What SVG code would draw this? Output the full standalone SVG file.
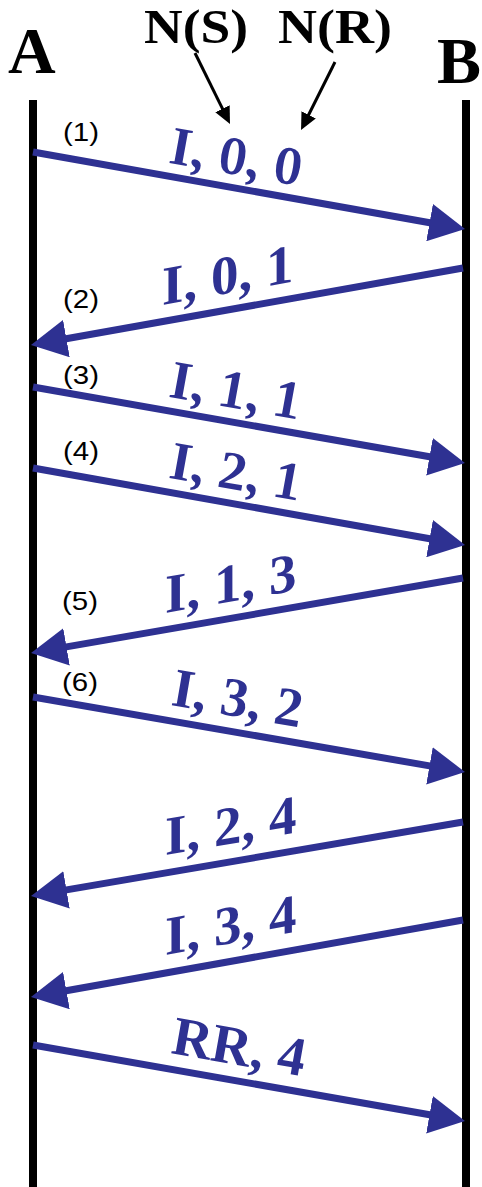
<svg xmlns="http://www.w3.org/2000/svg" width="482" height="1187" viewBox="0 0 482 1187">
<style>
.life{fill:#000}
.ttl{font-family:"Liberation Serif",serif;font-weight:bold;fill:#000}
.num{font-family:"Liberation Sans",Arial,sans-serif;font-size:26px;fill:#000}
.lbl{font-family:"Liberation Serif",serif;font-weight:bold;font-size:55px;fill:#2E3192}
.it{font-style:italic}
.msg{stroke:#2E3192;stroke-width:7;fill:none;marker-end:url(#ahB)}
.ptr{stroke:#000;stroke-width:3;fill:none;marker-end:url(#ahK)}
</style>
<defs>
<marker id="ahB" viewBox="0 0 36 38" refX="6" refY="19" markerWidth="36" markerHeight="38" markerUnits="userSpaceOnUse" orient="auto">
<path d="M0,0 L36,19 L0,38 z" fill="#2E3192"/>
</marker>
<marker id="ahK" viewBox="0 0 17 16" refX="3" refY="8" markerWidth="17" markerHeight="16" markerUnits="userSpaceOnUse" orient="auto">
<path d="M0,0 L17,8 L0,16 z" fill="#000"/>
</marker>
</defs>
<g id="nodeA">
<text class="ttl" x="8" y="73" font-size="66">A</text>
<rect class="life" x="29" y="100" width="8" height="1087"/>
</g>
<g id="nodeB">
<text class="ttl" x="437" y="83" font-size="66">B</text>
<rect class="life" x="462" y="100" width="8" height="1087"/>
</g>
<g id="nodeNS">
<text class="ttl" x="144" y="43" font-size="48" textLength="104" lengthAdjust="spacingAndGlyphs">N(S)</text>
</g>
<g id="nodeNR">
<text class="ttl" x="278" y="43" font-size="48" textLength="114" lengthAdjust="spacingAndGlyphs">N(R)</text>
</g>
<g id="connectors">
<line class="ptr" x1="195" y1="53" x2="223.8" y2="111.4"/>
<line class="ptr" x1="335" y1="62" x2="307.3" y2="117.5"/>
<line class="msg" x1="33" y1="152" x2="435.5" y2="223.7"/>
<line class="msg" x1="463" y1="268" x2="60.5" y2="339.7"/>
<line class="msg" x1="33" y1="387" x2="435.4" y2="457.8"/>
<line class="msg" x1="33" y1="468" x2="435.5" y2="539.7"/>
<line class="msg" x1="463" y1="578" x2="60.6" y2="647.9"/>
<line class="msg" x1="33" y1="697" x2="435.4" y2="766.9"/>
<line class="msg" x1="463" y1="822" x2="60.6" y2="890.9"/>
<line class="msg" x1="463" y1="920" x2="60.5" y2="991.7"/>
<line class="msg" x1="33" y1="1045" x2="435.4" y2="1115.8"/>
</g>
<g id="labels">
<text class="num" x="63" y="141" textLength="36" lengthAdjust="spacingAndGlyphs">(1)</text>
<text class="num" x="63" y="308" textLength="36" lengthAdjust="spacingAndGlyphs">(2)</text>
<text class="num" x="63" y="384" textLength="36" lengthAdjust="spacingAndGlyphs">(3)</text>
<text class="num" x="63" y="460" textLength="36" lengthAdjust="spacingAndGlyphs">(4)</text>
<text class="num" x="62" y="610" textLength="36" lengthAdjust="spacingAndGlyphs">(5)</text>
<text class="num" x="62" y="691" textLength="36" lengthAdjust="spacingAndGlyphs">(6)</text>
<text class="lbl it" transform="translate(170,163) skewY(10.1)">I, 0, 0</text>
<text class="lbl" transform="translate(162,305) skewY(-10.1)">I, 0, 1</text>
<text class="lbl it" transform="translate(170,397) skewY(10)">I, 1, 1</text>
<text class="lbl it" transform="translate(170,478) skewY(10.1)">I, 2, 1</text>
<text class="lbl" transform="translate(165,613) skewY(-9.85)">I, 1, 3</text>
<text class="lbl" transform="translate(170,705) rotate(9.85)">I, 3, 2</text>
<text class="lbl" transform="translate(165,855) skewY(-9.7)">I, 2, 4</text>
<text class="lbl" transform="translate(165,955) skewY(-10.1)">I, 3, 4</text>
<text class="lbl" transform="translate(170,1053) rotate(10)">RR, 4</text>
</g>
</svg>
